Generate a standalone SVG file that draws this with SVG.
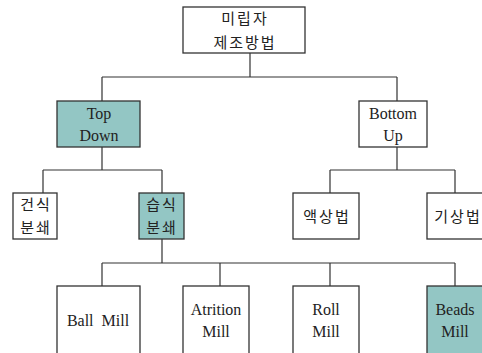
<svg xmlns="http://www.w3.org/2000/svg" width="482" height="353" viewBox="0 0 482 353">
<style>
.b{fill:#fff;stroke:#333;stroke-width:1.3}
.h{fill:#93c6c4;stroke:#333;stroke-width:1.3}
.c{fill:none;stroke:#333;stroke-width:1.2}
text{font-family:'Liberation Serif','Times New Roman',serif;font-size:16px;fill:#222;text-anchor:middle}
text.k{font-family:'Noto Sans CJK KR',sans-serif;font-size:15px;letter-spacing:2px;font-weight:400}
</style>
<rect width="482" height="353" fill="#fff"/>
<g id="connectors">
<path class="c" d="M250 53V77M102 77H397M102 77V101M397 77V101"/>
<path class="c" d="M102 147V170M43 170H162M43 170V193M162 170V193"/>
<path class="c" d="M397 147V170M330 170H455M330 170V193M455 170V193"/>
<path class="c" d="M162 239V263M102 263H455M102 263V286M220 263V286M330 263V286M455 263V286"/>
</g>
<g id="root"><rect class="b" x="183" y="7" width="122" height="46"/><text class="k" x="245" y="24">미립자</text><text class="k" x="245" y="48">제조방법</text></g>
<g id="topdown"><rect class="h" x="57" y="101" width="83" height="46"/><text x="99" y="119">Top</text><text x="99" y="141">Down</text></g>
<g id="bottomup"><rect class="b" x="359" y="101" width="68" height="46"/><text x="393" y="119">Bottom</text><text x="393" y="141">Up</text></g>
<g id="dry"><rect class="b" x="13" y="193" width="44" height="46"/><text class="k" x="36" y="210">건식</text><text class="k" x="36" y="233">분쇄</text></g>
<g id="wet"><rect class="h" x="139" y="193" width="45" height="46"/><text class="k" x="162" y="210">습식</text><text class="k" x="162" y="233">분쇄</text></g>
<g id="liquid"><rect class="b" x="293" y="193" width="66" height="46"/><text class="k" x="327" y="222">액상법</text></g>
<g id="gas"><rect class="b" x="427" y="193" width="70" height="46"/><text class="k" x="458" y="222">기상법</text></g>
<g id="ball"><rect class="b" x="57" y="286" width="83" height="80"/><text x="98" y="326" xml:space="preserve">Ball  Mill</text></g>
<g id="atrition"><rect class="b" x="183" y="286" width="66" height="80"/><text x="216" y="315">Atrition</text><text x="216" y="337">Mill</text></g>
<g id="roll"><rect class="b" x="293" y="286" width="66" height="80"/><text x="326" y="315">Roll</text><text x="326" y="337">Mill</text></g>
<g id="beads"><rect class="h" x="427" y="286" width="70" height="80"/><text x="455" y="315">Beads</text><text x="455" y="337">Mill</text></g>
</svg>
